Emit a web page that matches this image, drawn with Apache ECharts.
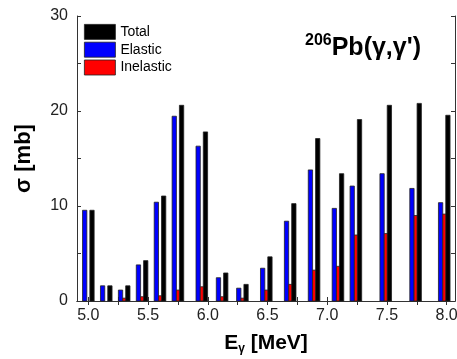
<!DOCTYPE html>
<html>
<head>
<meta charset="utf-8">
<script src="https://cdn.jsdelivr.net/npm/echarts@6/dist/echarts.min.js"></script>
<style>
  html, body { margin: 0; padding: 0; background: #fff; }
  #chart { width: 457px; height: 359px; }
</style>
</head>
<body>
<div id="chart"></div>
<script>
// photon energies (MeV) of each measured group
const energies = [5.0, 5.15, 5.3, 5.45, 5.6, 5.75, 5.95, 6.12, 6.29, 6.49, 6.69, 6.89, 7.09, 7.24, 7.49, 7.74, 7.98];
// cross sections in mb
const totalVals = [9.55, 1.6, 1.6, 4.25, 11.05, 20.6, 17.8, 2.95, 1.75, 4.65, 10.25, 17.1, 13.4, 19.1, 20.6, 20.8, 19.55];
const elasticVals = [9.55, 1.6, 1.15, 3.8, 10.4, 19.45, 16.3, 2.45, 1.35, 3.45, 8.4, 13.8, 9.75, 12.1, 13.4, 11.85, 10.35];
const inelasticVals = [0, 0, 0.3, 0.45, 0.55, 1.15, 1.5, 0.45, 0.3, 1.15, 1.75, 3.25, 3.65, 6.95, 7.1, 9.0, 9.15];
// axis ticks / labels
const xTicks = [5.0, 5.25, 5.5, 5.75, 6.0, 6.25, 6.5, 6.75, 7.0, 7.25, 7.5, 7.75, 8.0];
const xLabels = [5.0, 5.5, 6.0, 6.5, 7.0, 7.5, 8.0];

const colorSets = {
    total: '#000000',
    elastic: '#0000ff',
    inelastic: '#ff0000',
    border: '#222222',
    axis: '#333333',
    text: '#222222'
};
const fontName = '"Liberation Sans", Arial, sans-serif';

function pairs(vals) {
    return energies.map((e, i) => [e, vals[i]]);
}

// draws a bar shifted by a pixel offset from the energy position
function barRenderer(offset, width) {
    return function (params, api) {
        const v = api.value(1);
        if (!(v > 0)) return null;
        const top = api.coord([api.value(0), v]);
        const base = api.coord([api.value(0), 0]);
        return {
            type: 'rect',
            shape: { x: top[0] + offset, y: top[1], width: width, height: base[1] - top[1] },
            style: api.style()
        };
    };
}

function barSeries(name, vals, color, offset, width) {
    return {
        name: name,
        type: 'custom',
        renderItem: barRenderer(offset, width),
        encode: { x: 0, y: 1 },
        itemStyle: { color: color, borderColor: colorSets.border, borderWidth: 0.8 },
        data: pairs(vals)
    };
}

const axisLineStyle = { show: true, lineStyle: { color: colorSets.axis, width: 1 } };

const chart = echarts.init(document.getElementById('chart'), null, { renderer: 'canvas' });
chart.setOption({
    animation: false,
    backgroundColor: '#fff',
    grid: { left: 77, right: 2, top: 16, bottom: 58, outerBoundsMode: 'none' },
    title: {
        text: '{sup|206}{main|Pb(γ,γ\')}',
        left: 305,
        top: 33,
        padding: 0,
        textStyle: {
            rich: {
                sup: { fontSize: 16, fontWeight: 'bold', fontFamily: fontName, color: '#000', verticalAlign: 'top', lineHeight: 30, padding: [0, 0, 10, 0] },
                main: { fontSize: 25, fontWeight: 'bold', fontFamily: fontName, color: '#000', lineHeight: 30 }
            }
        }
    },
    legend: {
        data: ['Total', 'Elastic', 'Inelastic'],
        orient: 'vertical',
        left: 84,
        top: 24,
        padding: 0,
        itemWidth: 31,
        itemHeight: 15,
        itemGap: 2,
        icon: 'rect',
        itemStyle: { borderColor: colorSets.border, borderWidth: 0.8 },
        textStyle: { fontSize: 14, color: '#000', fontFamily: fontName }
    },
    xAxis: [
        {
            type: 'value',
            min: 4.905,
            max: 8.07,
            position: 'bottom',
            name: '{e|E}{g|γ}{e| [MeV]}',
            nameLocation: 'middle',
            nameGap: 30,
            nameTextStyle: {
                rich: {
                    e: { fontSize: 21, fontWeight: 'bold', fontFamily: fontName, color: '#000' },
                    g: { fontSize: 12, fontWeight: 'bold', fontFamily: fontName, color: '#000', padding: [12, 0, 0, 0] }
                }
            },
            axisLine: axisLineStyle,
            axisTick: { show: true, inside: true, length: 4, customValues: xTicks, lineStyle: { color: colorSets.axis } },
            axisLabel: {
                show: true, margin: 7, fontSize: 16, color: colorSets.text, fontFamily: fontName,
                customValues: xLabels,
                formatter: v => v.toFixed(1)
            },
            splitLine: { show: false }
        },
        {
            type: 'value',
            min: 4.905,
            max: 8.07,
            position: 'top',
            axisLine: axisLineStyle,
            axisTick: { show: true, inside: true, length: 4, customValues: xTicks, lineStyle: { color: colorSets.axis } },
            axisLabel: { show: false },
            splitLine: { show: false }
        }
    ],
    yAxis: [
        {
            type: 'value',
            min: 0,
            max: 30,
            interval: 5,
            position: 'left',
            name: 'σ [mb]',
            nameLocation: 'middle',
            nameGap: 42,
            nameTextStyle: { fontSize: 22, fontWeight: 'bold', fontFamily: fontName, color: '#000' },
            axisLine: axisLineStyle,
            axisTick: { show: true, inside: true, length: 4, lineStyle: { color: colorSets.axis } },
            axisLabel: {
                margin: 9, fontSize: 16, color: colorSets.text, fontFamily: fontName,
                formatter: v => (v % 10 === 0 ? String(v) : '')
            },
            splitLine: { show: false }
        },
        {
            type: 'value',
            min: 0,
            max: 30,
            interval: 5,
            position: 'right',
            axisLine: axisLineStyle,
            axisTick: { show: true, inside: true, length: 4, lineStyle: { color: colorSets.axis } },
            axisLabel: { show: false },
            splitLine: { show: false }
        }
    ],
    series: [
        barSeries('Elastic', elasticVals, colorSets.elastic, -5.8, 4.3),
        barSeries('Inelastic', inelasticVals, colorSets.inelastic, -1.5, 4),
        barSeries('Total', totalVals, colorSets.total, 1.5, 4.3)
    ]
});
</script>
</body>
</html>
